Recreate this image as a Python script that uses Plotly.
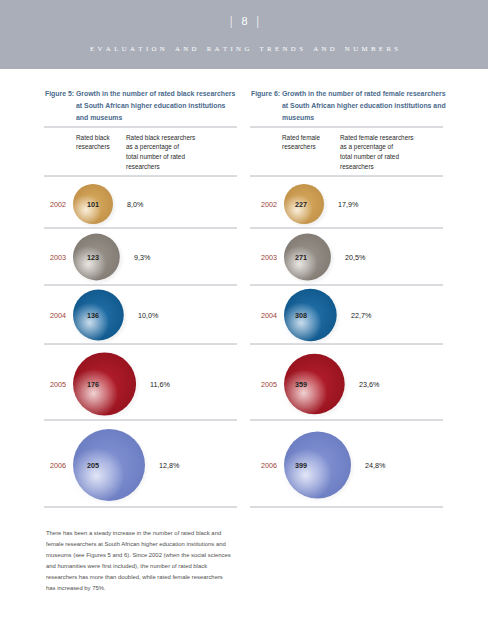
import plotly.graph_objects as go

# ---------------- data ----------------
years = ["2002", "2003", "2004", "2005", "2006"]
black_counts = [101, 123, 136, 176, 205]
black_pct = ["8,0%", "9,3%", "10,0%", "11,6%", "12,8%"]
female_counts = [227, 271, 308, 359, 399]
female_pct = ["17,9%", "20,5%", "22,7%", "23,6%", "24,8%"]

header_page = "|\u2002 8 \u2002|"
header_sub = "EVALUATION AND RATING TRENDS AND NUMBERS"

fig5_title = ["Figure 5: Growth in the number of rated black researchers",
              "at South African higher education institutions",
              "and museums"]
fig6_title = ["Figure 6: Growth in the number of rated female researchers",
              "at South African higher education institutions and",
              "museums"]
fig5_col1 = ["Rated black", "researchers"]
fig5_col2 = ["Rated black researchers", "as a percentage of", "total number of rated", "researchers"]
fig6_col1 = ["Rated female", "researchers"]
fig6_col2 = ["Rated female researchers", "as a percentage of", "total number of rated", "researchers"]

body_text = ["There has been a steady increase in the number of rated black and",
             "female researchers at South African higher education institutions and",
             "museums (see Figures 5 and 6). Since 2002 (when the social sciences",
             "and humanities were first included), the number of rated black",
             "researchers has more than doubled, while rated female researchers",
             "has increased by 75%."]

# ---------------- styles ----------------
W, H = 488, 640
SANS = "Liberation Sans, Arial, sans-serif"
SERIF = "Liberation Serif, DejaVu Serif, serif"
TITLE_COLOR = "#4a6a8c"
YEAR_COLOR = "#9c4236"
TEXT_COLOR = "#2a2a2a"
LINE_COLOR = "#b4b8c0"

sphere_main = ["#d8ac62", "#9a948d", "#2472ab", "#b71f2c", "#8595d5"]
sphere_dark = ["#c39349", "#837d76", "#115a8f", "#981420", "#6d7ec3"]
sphere_light = ["255,248,236", "245,242,238", "225,236,246", "250,235,233", "240,242,252"]

row_y = [204, 257, 315, 384, 465]
sep_y = [176, 228, 285, 344, 420, 507]

fig = go.Figure()

def size_scale(vals, dmin, dmax):
    lo, hi = min(vals), max(vals)
    return [dmin + (v - lo) * (dmax - dmin) / (hi - lo) for v in vals]

panels = [
    dict(counts=black_counts, pct=black_pct, sizes=size_scale(black_counts, 40, 72),
         left=73, year_x=68, num_x=85, x0=44, x1=237),
    dict(counts=female_counts, pct=female_pct, sizes=size_scale(female_counts, 40, 67),
         left=284, year_x=279, num_x=293, x0=250, x1=443),
]

annotations = []
shapes = []

# header band
shapes.append(dict(type="rect", x0=0, x1=W, y0=0, y1=69, fillcolor="#a9aeb9",
                   line=dict(width=0), layer="below"))

def txt(x, y, s, size, color, family=SANS, xanchor="left", bold=False):
    if bold:
        s = "<b>" + s + "</b>"
    annotations.append(dict(x=x, y=y, text=s, showarrow=False, xanchor=xanchor,
                            yanchor="middle", font=dict(size=size, color=color, family=family),
                            xref="x", yref="y"))

txt(244, 21, header_page, 12, "white", SERIF, "center")
spaced = "\u2003\u2002".join("\u2002".join(list(w)) for w in header_sub.split(" "))
txt(244, 48, spaced, 6.8, "white", SERIF, "center")

for p_i, p in enumerate(panels):
    title = fig5_title if p_i == 0 else fig6_title
    col1 = fig5_col1 if p_i == 0 else fig6_col1
    col2 = fig5_col2 if p_i == 0 else fig6_col2
    x0 = p["x0"]
    indent = x0 + 30
    for i, line in enumerate(title):
        txt(x0 - 1 if i == 0 else indent, 94 + 11.5 * i, line, 6.9, TITLE_COLOR, bold=True)
    shapes.append(dict(type="line", x0=x0, x1=p["x1"], y0=127, y1=127,
                       line=dict(color=LINE_COLOR, width=1)))
    c1x = 74 if p_i == 0 else 280
    c2x = 124 if p_i == 0 else 338
    for i, line in enumerate(col1):
        txt(c1x, 137 + 9.7 * i, line, 6.4, TEXT_COLOR)
    for i, line in enumerate(col2):
        txt(c2x, 137 + 9.7 * i, line, 6.4, TEXT_COLOR)
    for sy in sep_y:
        shapes.append(dict(type="line", x0=x0, x1=p["x1"], y0=sy, y1=sy,
                           line=dict(color=LINE_COLOR, width=1)))

    for k, yr in enumerate(years):
        d = p["sizes"][k]
        r = d / 2
        cx = p["left"] + r
        cy = row_y[k]
        # shadow
        fig.add_trace(go.Scatter(x=[cx + 2], y=[cy + 2], mode="markers", hoverinfo="skip",
                                 marker=dict(size=d + 5, color="rgba(80,80,80,0)",
                                             gradient=dict(type="radial", color="rgba(80,80,80,0.45)"),
                                             line=dict(width=0))))
        # body
        fig.add_trace(go.Scatter(x=[cx], y=[cy], mode="markers", hoverinfo="skip",
                                 marker=dict(size=d, color=sphere_dark[k],
                                             gradient=dict(type="radial", color=sphere_main[k]),
                                             line=dict(width=0))))
        # highlight
        fig.add_trace(go.Scatter(x=[cx - 0.35 * r], y=[cy + 0.3 * r], mode="markers", hoverinfo="skip",
                                 marker=dict(size=d * 0.78, color="rgba(%s,0)" % sphere_light[k],
                                             gradient=dict(type="radial", color="rgba(%s,0.88)" % sphere_light[k]),
                                             line=dict(width=0))))
        txt(p["year_x"], cy, yr, 7.2, YEAR_COLOR, xanchor="right")
        txt(p["num_x"], cy, str(p["counts"][k]), 7.2, "#222222", bold=True)
        txt(cx + r + 12, cy, p["pct"][k], 7.2, "#222222")

for i, line in enumerate(body_text):
    txt(44, 533 + 11 * i, line, 5.9, "#505050")

fig.update_layout(
    width=W, height=H, autosize=False,
    margin=dict(l=0, r=0, t=0, b=0),
    paper_bgcolor="white", plot_bgcolor="white",
    showlegend=False,
    xaxis=dict(range=[0, W], visible=False, fixedrange=True),
    yaxis=dict(range=[H, 0], visible=False, fixedrange=True),
    shapes=shapes, annotations=annotations,
)

fig.write_html("out.html", config={"displayModeBar": False},
               post_script="document.body.style.margin='0';document.body.style.overflow='hidden';")
